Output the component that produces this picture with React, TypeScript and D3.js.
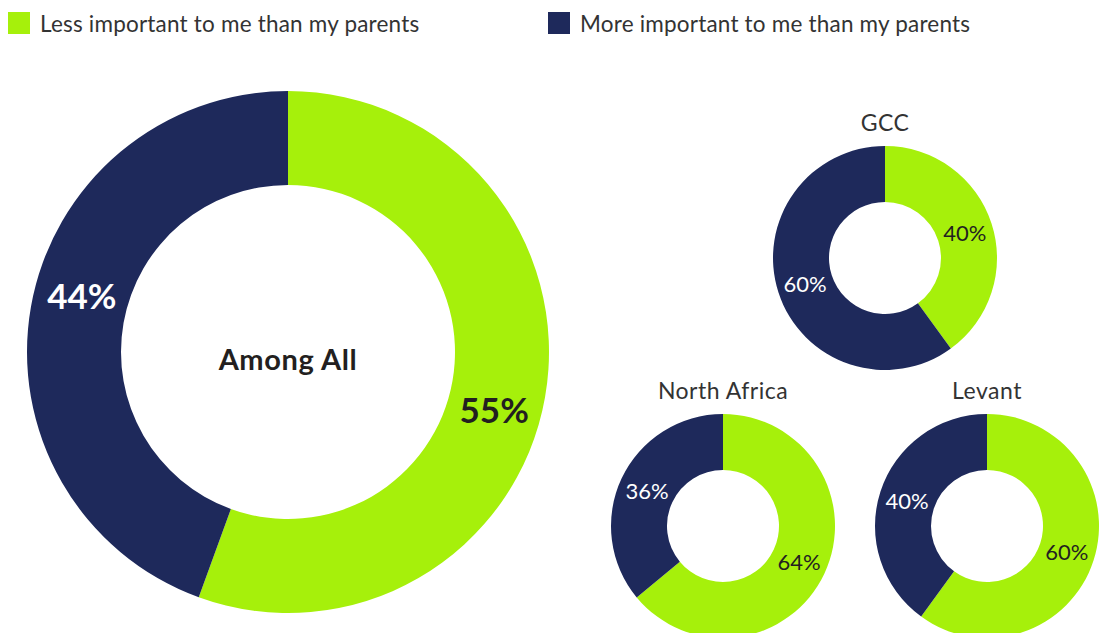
import React from "react";
import * as d3 from "d3";

const series = ["Less important to me than my parents", "More important to me than my parents"];
const colors = ["#a6f00b", "#1e295b"];

const regions = ["Among All", "GCC", "North Africa", "Levant"];
const lessValues = [55, 40, 64, 60];
const moreValues = [44, 60, 36, 40];

const W = 1102;
const H = 633;
const FONT = "Lato, 'Open Sans', sans-serif";

type Layout = { cx: number; cy: number; r0: number; r1: number; big: boolean; labelShift: number };
const layouts: Layout[] = [
  { cx: 288, cy: 352, r0: 167, r1: 261, big: true, labelShift: 5.5 },
  { cx: 885, cy: 258, r0: 56, r1: 112, big: false, labelShift: 0 },
  { cx: 723, cy: 526, r0: 56, r1: 112, big: false, labelShift: 0 },
  { cx: 987, cy: 526, r0: 56, r1: 112, big: false, labelShift: 0 },
];

function Donut({ idx }: { idx: number }) {
  const L = layouts[idx];
  const vals = [lessValues[idx], moreValues[idx]];
  const pie = d3.pie<number>().sort(null).value((d) => d);
  const arcs = pie(vals);
  const arc = d3.arc<d3.PieArcDatum<number>>().innerRadius(L.r0).outerRadius(L.r1);
  const rMid = (L.r0 + L.r1) / 2;
  return (
    <g transform={`translate(${L.cx},${L.cy})`}>
      {arcs.map((a, i) => (
        <path key={i} d={arc(a) || ""} fill={colors[i]} />
      ))}
      {arcs.map((a, i) => {
        const ang = (a.startAngle + a.endAngle) / 2 + (L.labelShift * Math.PI) / 180;
        const x = Math.sin(ang) * rMid;
        const y = -Math.cos(ang) * rMid;
        return (
          <text
            key={"t" + i}
            x={x}
            y={y}
            textAnchor="middle"
            dominantBaseline="central"
            fontFamily={FONT}
            fontWeight={L.big ? 700 : 400}
            fontSize={L.big ? 35 : 22}
            fill={i === 0 ? "#231f20" : "#ffffff"}
          >
            {vals[i]}%
          </text>
        );
      })}
      {L.big ? (
        <text
          x={0}
          y={6}
          textAnchor="middle"
          dominantBaseline="central"
          fontFamily={FONT}
          fontWeight={700}
          fontSize={29}
          letterSpacing={0.6}
          fill="#231f20"
        >
          {regions[idx]}
        </text>
      ) : (
        <text
          x={0}
          y={-L.r1 - 24}
          textAnchor="middle"
          dominantBaseline="central"
          fontFamily={FONT}
          fontSize={23}
          letterSpacing={0.5}
          fill="#333333"
        >
          {regions[idx]}
        </text>
      )}
    </g>
  );
}

export default function App() {
  const legendX = [8, 548];
  return (
    <svg
      width={W}
      height={H}
      style={{ position: "absolute", left: 0, top: 0, background: "#ffffff" }}
    >
      {series.map((s, i) => (
        <g key={s}>
          <rect x={legendX[i]} y={12} width={22} height={22} fill={colors[i]} />
          <text
            x={legendX[i] + 32}
            y={32}
            fontFamily={FONT}
            fontSize={22.5}
            letterSpacing={0.2}
            fill="#333333"
          >
            {s}
          </text>
        </g>
      ))}
      {regions.map((r, i) => (
        <Donut key={r} idx={i} />
      ))}
    </svg>
  );
}
